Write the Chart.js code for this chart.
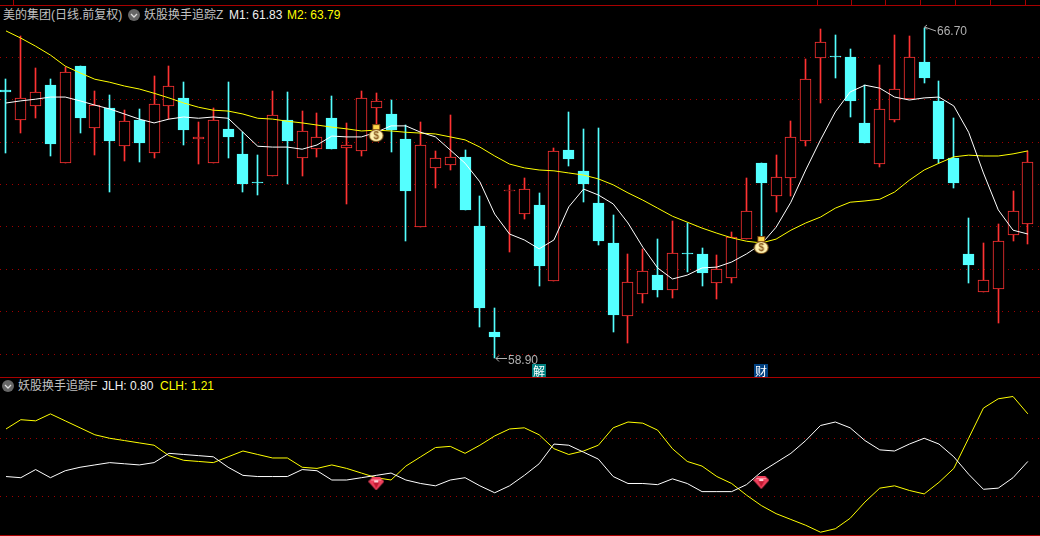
<!DOCTYPE html>
<html>
<head>
<meta charset="utf-8">
<title>美的集团</title>
<script src="https://cdn.jsdelivr.net/npm/chart.js@4"></script>
<style>
    html, body { margin: 0; padding: 0; background: #000; width: 1040px; height: 536px; overflow: hidden; }
    canvas { position: absolute; left: 0; }
    .txt { position: absolute; font: 12px "Liberation Sans", "Noto Sans CJK SC", sans-serif; color: #c0c0c0; white-space: nowrap; line-height: 14px; }
    .yel { color: #ffff00; }
    .wht { color: #f0f0f0; }
    .rule { position: absolute; left: 0; width: 1040px; height: 1px; background: #a80000; }
    .tick { position: absolute; top: 0; width: 1px; height: 5px; background: #a80000; }
    svg { position: absolute; }
</style>
</head>
<body>
<div class="rule" style="top:5px"></div>
<div class="rule" style="top:377px"></div>
<div class="rule" style="top:535px"></div>

<span class="txt" style="left:3px;top:8px">美的集团(日线.前复权)</span>
<svg style="left:128px;top:9px" width="12" height="12"><circle cx="6" cy="6" r="6" fill="#666"/><path d="M3 5 L6 8 L9 5" stroke="#ddd" stroke-width="1.3" fill="none"/></svg>
<span class="txt" style="left:144px;top:8px">妖股换手追踪Z</span>
<span class="txt wht" style="left:229px;top:8px">M1: 61.83</span>
<span class="txt yel" style="left:287px;top:8px">M2: 63.79</span>

<svg style="left:2px;top:380px" width="12" height="12"><circle cx="6" cy="6" r="6" fill="#666"/><path d="M3 5 L6 8 L9 5" stroke="#ddd" stroke-width="1.3" fill="none"/></svg>
<span class="txt" style="left:18px;top:379px">妖股换手追踪F</span>
<span class="txt wht" style="left:102px;top:379px">JLH: 0.80</span>
<span class="txt yel" style="left:160px;top:379px">CLH: 1.21</span>

<canvas id="priceChart" width="1040" height="372" style="top:5px"></canvas>
<canvas id="turnChart" width="1040" height="158" style="top:377px"></canvas>

<script>
// --- candles ---
const opens = [65.23,64.52,64.85,65.34,63.50,65.79,64.33,64.80,63.90,64.52,
    63.74,64.85,65.04,64.07,63.50,64.31,63.72,63.06,63.20,64.52,
    63.62,63.83,64.56,63.86,63.79,64.80,64.66,64.07,61.99,63.39,
    63.46,63.65,62.02,59.52,62.84,62.30,62.51,60.72,63.81,63.32,
    62.56,61.62,59.90,60.41,60.86,60.51,61.38,61.36,60.67,60.79,
    61.71,63.50,62.73,63.15,64.02,65.98,66.03,66.00,64.45,63.48,
    64.52,65.01,65.89,64.97,63.62,61.36,60.46,60.53,61.81,62.07];
const highs = [65.48,66.50,65.74,65.48,65.77,65.79,65.20,65.11,64.75,64.78,
    65.56,65.79,65.41,64.47,64.80,65.41,64.23,63.69,65.20,65.18,
    64.73,64.68,65.08,64.45,65.20,65.15,64.99,64.40,64.47,63.79,
    64.64,63.81,62.73,60.08,62.99,63.15,62.80,63.86,64.71,64.31,
    64.33,62.28,61.36,61.48,61.71,62.14,62.09,61.50,61.33,61.88,
    63.15,63.50,63.69,64.49,65.96,66.66,66.52,66.19,65.34,65.81,
    66.52,66.50,66.70,65.44,64.56,62.21,61.62,62.07,62.84,63.79];
const lows = [63.74,64.21,64.56,63.67,63.50,64.21,63.69,62.82,63.55,63.53,
    63.62,64.54,63.93,63.48,63.50,63.62,62.82,62.75,63.20,63.01,
    63.20,63.65,63.83,62.54,63.67,64.28,63.76,61.66,61.99,62.91,
    63.34,62.40,59.64,58.90,61.41,62.18,60.60,60.72,63.43,62.58,
    61.57,59.52,59.26,60.20,60.34,60.32,60.93,60.60,60.30,60.67,
    61.71,61.57,62.35,62.73,63.90,64.92,65.51,64.59,63.98,63.41,
    64.47,65.01,65.39,63.50,62.91,60.67,60.46,59.73,61.66,61.59];
const closes = [65.18,65.04,65.18,63.95,65.65,64.56,64.87,64.02,64.49,63.98,
    64.90,65.32,64.28,64.12,64.52,64.12,63.01,63.03,64.64,64.02,
    64.26,64.12,63.83,63.93,65.04,64.97,64.28,62.84,63.93,63.62,
    63.65,62.40,60.08,59.40,62.87,62.89,61.08,63.79,63.60,63.01,
    61.66,59.92,60.70,60.96,60.51,61.38,61.36,60.91,61.00,61.76,
    62.37,63.03,63.17,64.12,65.48,66.36,66.00,64.97,63.98,64.78,
    65.25,66.00,65.51,63.60,63.03,61.10,60.74,61.66,62.37,63.53];

// --- moving lines of the upper pane ---
const m1Values = [64.92,64.97,65.01,65.06,65.06,64.97,64.87,64.78,64.66,64.54,
    64.45,64.54,64.59,64.56,64.59,64.56,64.23,63.90,63.88,63.88,
    63.83,63.93,64.14,64.12,64.12,64.23,64.38,64.38,64.23,64.12,
    63.81,63.50,63.06,62.30,61.83,61.69,61.48,61.69,62.47,62.89,
    62.75,62.54,62.09,61.52,61.03,60.77,60.86,61.03,61.05,61.17,
    61.36,61.59,61.99,62.58,63.34,64.05,64.71,65.18,65.34,65.27,
    65.06,64.99,65.04,65.06,64.85,64.23,63.27,62.40,61.92,61.83];
const m2Values = [66.62,66.45,66.26,66.05,65.79,65.63,65.48,65.41,65.32,65.25,
    65.15,65.04,64.92,64.82,64.75,64.73,64.66,64.56,64.54,64.49,
    64.45,64.40,64.35,64.31,64.26,64.28,64.26,64.23,64.21,64.19,
    64.12,64.05,63.88,63.67,63.48,63.39,63.34,63.32,63.27,63.22,
    63.13,62.99,62.80,62.63,62.44,62.25,62.11,61.97,61.85,61.74,
    61.66,61.62,61.71,61.92,62.09,62.23,62.44,62.58,62.61,62.65,
    62.82,63.10,63.34,63.50,63.65,63.69,63.67,63.67,63.72,63.79];

// --- lower pane ---
const jlhValues = [0.67,0.66,0.73,0.66,0.72,0.75,0.77,0.79,0.78,0.77,
    0.79,0.87,0.86,0.85,0.84,0.75,0.68,0.67,0.67,0.67,
    0.73,0.72,0.64,0.64,0.66,0.68,0.70,0.64,0.61,0.59,
    0.64,0.66,0.59,0.53,0.59,0.68,0.78,0.95,0.94,0.88,
    0.82,0.67,0.61,0.61,0.60,0.65,0.61,0.54,0.54,0.54,
    0.60,0.71,0.79,0.87,0.98,1.11,1.14,1.09,0.98,0.90,
    0.89,0.95,1.00,0.95,0.84,0.69,0.56,0.57,0.66,0.80];
const clhValues = [1.08,1.16,1.15,1.21,1.15,1.09,1.03,1.00,0.98,0.96,
    0.94,0.85,0.81,0.80,0.79,0.84,0.89,0.86,0.83,0.83,
    0.75,0.74,0.77,0.74,0.70,0.66,0.64,0.76,0.84,0.92,
    0.93,0.87,0.94,1.02,1.08,1.09,1.03,0.91,0.86,0.89,
    0.94,1.09,1.14,1.13,1.07,0.91,0.80,0.76,0.67,0.61,
    0.51,0.42,0.35,0.30,0.25,0.19,0.22,0.31,0.45,0.57,
    0.59,0.55,0.52,0.62,0.74,1.00,1.26,1.34,1.36,1.21];

// --- signals and tick levels ---
const signalDays = [25, 51];
const bagPrices = [64.21, 61.57];
const gemLevels = [0.606, 0.618];
const tagDays = [36, 51];
const tagTexts = ['解', '财'];
const priceTicks = [59, 60, 61, 62, 63, 64, 65, 66];
const turnTicks = [0.5, 1];

const RED = '#ff3232';
const CYAN = '#54ffff';
const GRID = '#a00000';
const xMin = -0.405, xMax = 69.82;

const days = opens.map((v, i) => i);
const isUp = days.map(i => closes[i] >= opens[i]);

// money bag and gem icons for the signal points
function makeBag() {
    const c = document.createElement('canvas');
    c.width = 16; c.height = 18;
    const g = c.getContext('2d');
    g.fillStyle = '#7a4a10';
    g.beginPath(); g.ellipse(8, 11.5, 7.5, 6.5, 0, 0, Math.PI * 2); g.fill();
    g.fillRect(4, 0, 8, 6);
    g.fillStyle = '#ffd94a';
    g.fillRect(5, 1, 6, 4);
    g.fillStyle = '#fff2b0';
    g.beginPath(); g.ellipse(8, 11.5, 6.5, 5.5, 0, 0, Math.PI * 2); g.fill();
    g.fillStyle = '#8a5a20';
    g.fillRect(5, 5, 6, 1);
    g.font = 'bold 10px "Liberation Sans"';
    g.textAlign = 'center';
    g.textBaseline = 'middle';
    g.fillText('$', 8, 12);
    return c;
}

function makeGem() {
    const c = document.createElement('canvas');
    c.width = 16; c.height = 13;
    const g = c.getContext('2d');
    g.fillStyle = '#f0405c';
    g.beginPath();
    g.moveTo(4, 0); g.lineTo(12, 0); g.lineTo(16, 4); g.lineTo(8, 13); g.lineTo(0, 4);
    g.closePath(); g.fill();
    g.fillStyle = '#ff9aa8';
    g.fillRect(3, 2, 10, 1);
    g.fillStyle = '#ffd0d8';
    g.fillRect(6, 3, 4, 2);
    g.fillStyle = '#c01830';
    g.beginPath(); g.moveTo(5, 5); g.lineTo(11, 5); g.lineTo(8, 11); g.closePath(); g.fill();
    return c;
}

// keeps candles on whole pixels like the original terminal
const snapBars = {
    id: 'snapBars',
    beforeDatasetsDraw(chart) {
        chart.getSortedVisibleDatasetMetas().forEach(meta => {
            if (meta.type !== 'bar') return;
            meta.data.forEach(el => {
                el.x = Math.floor(el.x) + 0.5;
                el.y = Math.round(el.y);
                el.base = Math.round(el.base);
            });
        });
    }
};

// high / low price notes and the small tags at the pane bottom
const priceNotes = {
    id: 'priceNotes',
    afterDatasetsDraw(chart) {
        const g = chart.ctx, xs = chart.scales.x, ys = chart.scales.y;
        const hi = Math.max(...highs), lo = Math.min(...lows);
        const hiX = Math.round(xs.getPixelForValue(highs.indexOf(hi)));
        const loX = Math.round(xs.getPixelForValue(lows.indexOf(lo)));
        const hiY = Math.round(ys.getPixelForValue(hi));
        const loY = Math.round(ys.getPixelForValue(lo));
        g.save();
        g.strokeStyle = '#b0b0b0';
        g.fillStyle = '#b0b0b0';
        g.lineWidth = 1;
        g.beginPath();
        g.moveTo(hiX + 0.5, hiY - 1); g.lineTo(hiX + 12, hiY + 3);
        g.moveTo(hiX + 0.5, hiY - 1); g.lineTo(hiX + 3, hiY - 3);
        g.moveTo(hiX + 0.5, hiY - 1); g.lineTo(hiX + 3, hiY + 1.5);
        g.moveTo(loX + 1, loY + 0.5); g.lineTo(loX + 12, loY + 0.5);
        g.moveTo(loX + 1, loY + 0.5); g.lineTo(loX + 4, loY - 2.5);
        g.moveTo(loX + 1, loY + 0.5); g.lineTo(loX + 4, loY + 3.5);
        g.stroke();
        g.font = '12px "Liberation Sans"';
        g.textBaseline = 'middle';
        g.fillText(hi.toFixed(2), hiX + 13, hiY + 4);
        g.fillText(lo.toFixed(2), loX + 13, loY + 3);

        const tagColors = ['#008080', '#004080'];
        tagDays.forEach((d, i) => {
            const x = Math.round(xs.getPixelForValue(d));
            g.fillStyle = tagColors[i];
            g.fillRect(x - 7, chart.height - 13, 14, 13);
            g.fillStyle = '#ffffff';
            g.font = '12px "Noto Sans CJK SC"';
            g.textAlign = 'center';
            g.fillText(tagTexts[i], x, chart.height - 6);
            g.textAlign = 'left';
        });
        g.restore();
    }
};

function baseScales(yMin, yMax, tickValues) {
    return {
        x: { type: 'linear', min: xMin, max: xMax, offset: false, display: false },
        y: {
            min: yMin, max: yMax,
            afterBuildTicks(axis) { axis.ticks = tickValues.map(v => ({ value: v })); },
            afterFit(axis) { axis.width = 0; },
            ticks: { display: false },
            border: { display: false, dash: [1, 5] },
            grid: { color: GRID, drawTicks: false, lineWidth: 1 },
        }
    };
}

function lineSet(values, color, order) {
    return {
        type: 'line',
        data: days.map(i => ({ x: i, y: values[i] })),
        borderColor: color,
        borderWidth: 1,
        pointRadius: 0,
        tension: 0,
        order: order
    };
}

function markerSet(levels, icon) {
    return {
        type: 'line',
        data: signalDays.map((d, i) => ({ x: d, y: levels[i] })),
        showLine: false,
        pointStyle: icon,
        pointRadius: 8,
        order: 0
    };
}

const sharedOptions = {
    responsive: false,
    devicePixelRatio: 1,
    animation: false,
    events: [],
    layout: { padding: 0, autoPadding: false },
    plugins: { legend: { display: false }, tooltip: { enabled: false } }
};

new Chart(document.getElementById('priceChart'), {
    type: 'bar',
    data: {
        datasets: [
            markerSet(bagPrices, makeBag()),
            lineSet(m1Values, '#ffffff', 1),
            lineSet(m2Values, '#ffff00', 2),
            {
                // bodies
                data: days.map(i => ({ x: i, y: [opens[i], closes[i]] })),
                backgroundColor: days.map(i => isUp[i] ? '#000000' : CYAN),
                borderColor: days.map(i => isUp[i] ? RED : CYAN),
                borderWidth: 1,
                borderSkipped: false,
                barThickness: 11,
                grouped: false,
                order: 3
            },
            {
                // wicks
                data: days.map(i => ({ x: i, y: [lows[i], highs[i]] })),
                backgroundColor: days.map(i => isUp[i] ? RED : CYAN),
                borderWidth: 0,
                barThickness: 1,
                grouped: false,
                order: 4
            }
        ]
    },
    options: { ...sharedOptions, scales: baseScales(58.458, 67.231, priceTicks) },
    plugins: [snapBars, priceNotes]
});

new Chart(document.getElementById('turnChart'), {
    type: 'line',
    data: {
        datasets: [
            markerSet(gemLevels, makeGem()),
            lineSet(jlhValues, '#ffffff', 1),
            lineSet(clhValues, '#ffff00', 2)
        ]
    },
    options: { ...sharedOptions, scales: baseScales(0.166, 1.528, turnTicks) }
});

// little table stubs at the top edge
[13, 817, 851, 885, 920, 955, 990, 1025].forEach(x => {
    const t = document.createElement('div');
    t.className = 'tick';
    t.style.left = x + 'px';
    document.body.appendChild(t);
});
</script>
</body>
</html>
